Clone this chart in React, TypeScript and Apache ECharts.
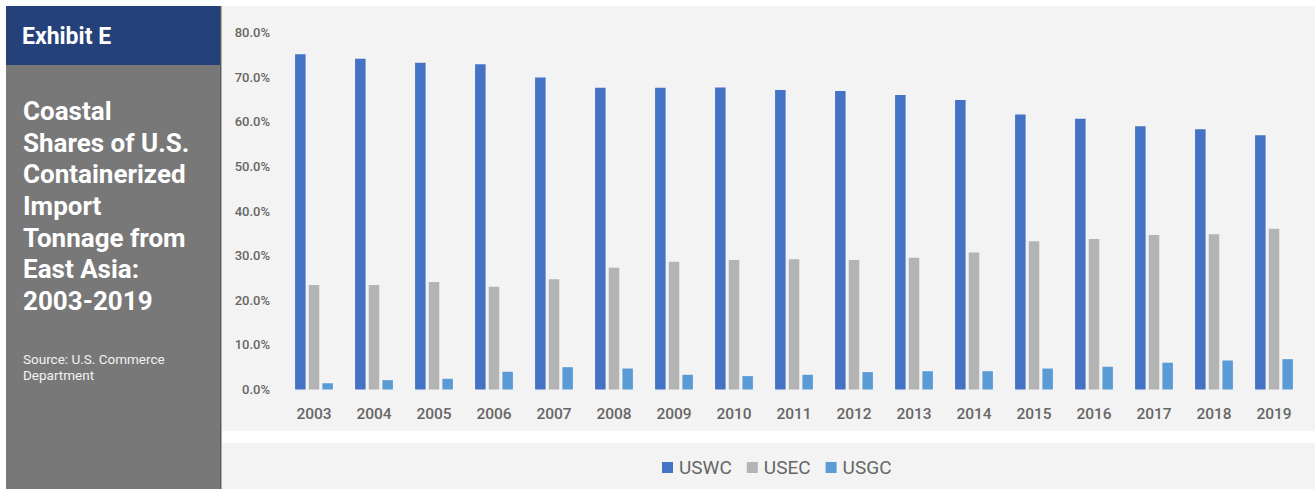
import React, { useEffect, useRef } from "react";
import * as echarts from "echarts";

const years = ["2003","2004","2005","2006","2007","2008","2009","2010","2011","2012","2013","2014","2015","2016","2017","2018","2019"];
const uswc = [75.1,74.1,73.2,72.9,69.9,67.6,67.6,67.7,67.1,66.9,66.0,64.9,61.6,60.7,59.0,58.3,57.0];
const usec = [23.4,23.4,24.1,23.0,24.7,27.3,28.6,29.0,29.2,29.0,29.5,30.7,33.2,33.7,34.6,34.8,36.0];
const usgc = [1.4,2.1,2.4,4.0,5.0,4.7,3.3,3.0,3.3,3.9,4.1,4.1,4.7,5.1,6.0,6.5,6.8];
const seriesNames = ["USWC","USEC","USGC"];
const colors = ["#4472c4","#b4b4b4","#5b9bd5"];
const yTicks = { min: 0, max: 80, interval: 10 };

const FONT = "Roboto, 'Noto Sans', sans-serif";

export default function App() {
  const ref = useRef<HTMLDivElement>(null);
  useEffect(() => {
    if (!ref.current) return;
    const chart = echarts.init(ref.current, null, { renderer: "svg" });
    const data = [uswc, usec, usgc];
    chart.setOption({
      animation: false,
      backgroundColor: "#ffffff",
      textStyle: { fontFamily: FONT },
      graphic: [
        { type: "rect", z: -10, silent: true, shape: { x: 222, y: 6, width: 1093, height: 425 }, style: { fill: "#f3f3f3" } },
        { type: "rect", z: -10, silent: true, shape: { x: 222, y: 443, width: 1093, height: 46 }, style: { fill: "#f3f3f3" } },
        { type: "rect", z: -5, silent: true, shape: { x: 6, y: 6, width: 215, height: 483 }, style: { fill: "#787878" } },
        { type: "rect", z: -4, silent: true, shape: { x: 6, y: 6, width: 215, height: 59 }, style: { fill: "#254179" } },
        { type: "rect", z: -4, silent: true, shape: { x: 220, y: 6, width: 1.5, height: 483 }, style: { fill: "#5a5a5a" } },
        { type: "text", z: 10, x: 22, y: 36, style: { text: "Exhibit E", fill: "#ffffff", font: `bold 23px ${FONT}`, textVerticalAlign: "middle" } },
        { type: "text", z: 10, x: 23, y: 95, style: { text: "Coastal\nShares of U.S.\nContainerized\nImport\nTonnage from\nEast Asia:\n2003-2019", fill: "#ffffff", font: `bold 26px ${FONT}`, lineHeight: 31.7, textVerticalAlign: "top" } },
        { type: "text", z: 10, x: 23, y: 351, style: { text: "Source: U.S. Commerce\nDepartment", fill: "#f2f2f2", font: `13.5px ${FONT}`, lineHeight: 16, textVerticalAlign: "top" } }
      ],
      grid: { left: 284, right: 11, top: 32.5, bottom: 99.5, containLabel: false },
      legend: {
        data: seriesNames,
        left: 657,
        top: 453,
        icon: "rect",
        itemWidth: 11,
        itemHeight: 11,
        itemGap: 15,
        textStyle: { fontSize: 19, color: "#666666", fontFamily: FONT, padding: [0, 0, 0, 1] }
      },
      xAxis: {
        type: "category",
        data: years,
        axisLine: { show: false },
        axisTick: { show: false },
        axisLabel: { color: "#666666", fontSize: 15.5, fontWeight: 500, margin: 16, fontFamily: FONT }
      },
      yAxis: {
        type: "value",
        min: yTicks.min,
        max: yTicks.max,
        interval: yTicks.interval,
        splitLine: { show: false },
        axisLine: { show: false },
        axisTick: { show: false },
        axisLabel: { color: "#666666", fontSize: 13, fontWeight: 500, margin: 14, fontFamily: FONT, formatter: (v: number) => v.toFixed(1) + "%" }
      },
      series: seriesNames.map((name, i) => ({
        name,
        type: "bar",
        data: data[i],
        barWidth: 10.5,
        barGap: "30%",
        itemStyle: { color: colors[i] }
      }))
    });
    return () => chart.dispose();
  }, []);
  return <div ref={ref} style={{ position: "fixed", left: 0, top: 0, width: 1315, height: 489 }} />;
}
